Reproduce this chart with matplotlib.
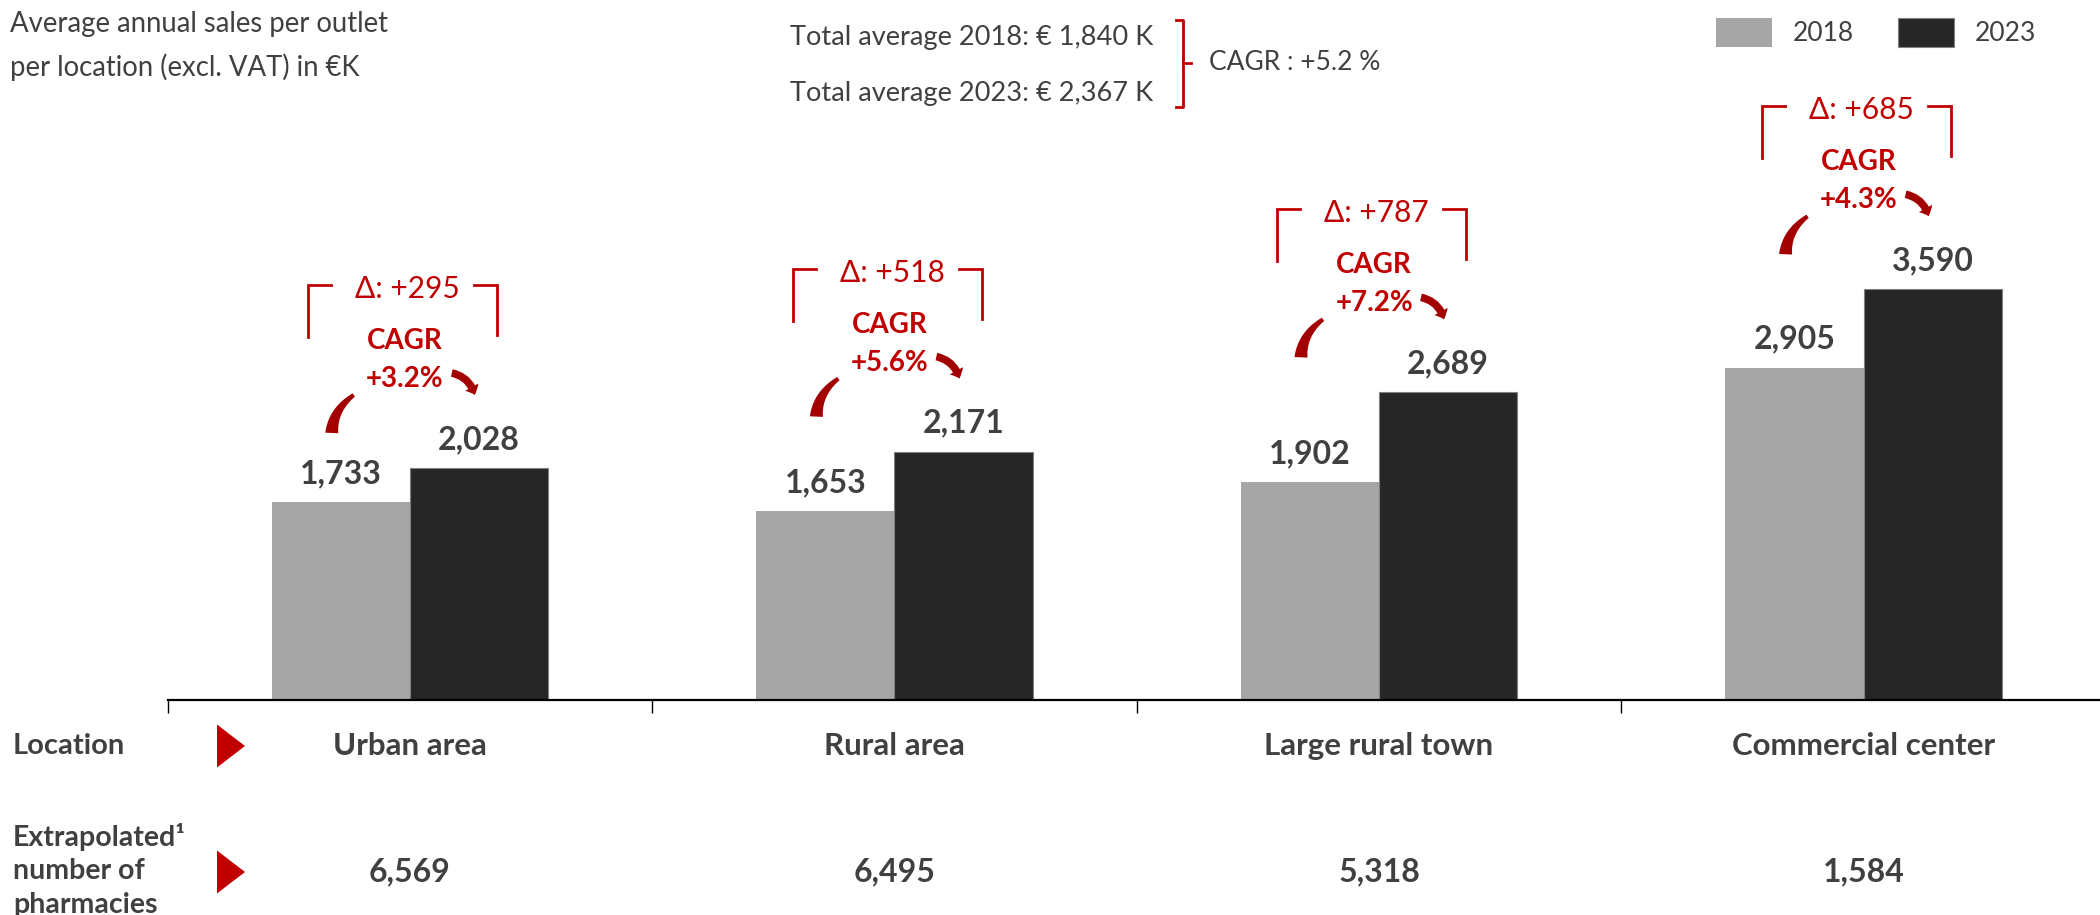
import numpy as np
import matplotlib
matplotlib.use('Agg')
import matplotlib.pyplot as plt
from matplotlib.patches import FancyArrowPatch, Polygon
from matplotlib.lines import Line2D

plt.rcParams['font.family'] = ['Lato', 'DejaVu Sans']

# data
locations = ['Urban area', 'Rural area', 'Large rural town', 'Commercial center']
years = ['2018', '2023']
sales_2018 = [1733, 1653, 1902, 2905]
sales_2023 = [2028, 2171, 2689, 3590]
cagr = [3.2, 5.6, 7.2, 4.3]
pharmacies = [6569, 6495, 5318, 1584]
total_avg = [1840, 2367]
total_cagr = 5.2

GREY = '#A6A6A6'
DARK = '#262626'
RED = '#C00000'
ARROW = '#A30000'
TXT = '#404040'

W, H = 2100, 915
fig = plt.figure(figsize=(21, 9.15), dpi=100)


def fx(px):
    return px / W


def fy(py):
    return 1 - py / H


# axes: baseline at y=700px, first category boundary at x=167.5px
ax = fig.add_axes([fx(167.5), fy(700), 1 - fx(167.5), 700 / H])
cat_w = 484.6          # px per category
y_scale = 0.1144       # px per unit
PX_X = 1 / cat_w
PX_Y = 1 / y_scale

x = np.arange(len(locations))
bw = 0.285
b1 = ax.bar(x - bw / 2, sales_2018, bw, color=GREY, label=years[0])
b2 = ax.bar(x + bw / 2, sales_2023, bw, color=DARK, edgecolor='#808080',
            linewidth=0.8, label=years[1])
ax.set_xlim(-0.5, -0.5 + (W - 167.5) / cat_w)
ax.set_ylim(0, 700 / y_scale)

for s in ['left', 'right', 'top']:
    ax.spines[s].set_visible(False)
ax.spines['bottom'].set_linewidth(1.6)
ax.set_yticks([])
ax.set_xticks(x - 0.5)
ax.tick_params(axis='x', length=9, width=1, labelbottom=False, direction='out')

ax.bar_label(b1, labels=[f'{v:,}' for v in sales_2018], padding=10,
             fontsize=23, fontweight='bold', color=TXT)
ax.bar_label(b2, labels=[f'{v:,}' for v in sales_2023], padding=10,
             fontsize=23, fontweight='bold', color=TXT)

# bottom rows
tr = ax.get_xaxis_transform()
for i, name in enumerate(locations):
    ax.text(i, -46 / 700, name, transform=tr, ha='center', va='center',
            fontsize=22.5, fontweight='bold', color=TXT, clip_on=False)
    ax.text(i, -172 / 700, f'{pharmacies[i]:,}', transform=tr, ha='center',
            va='center', fontsize=23, fontweight='bold', color=TXT, clip_on=False)

fig.text(fx(13), fy(746), 'Location', va='center', fontsize=21,
         fontweight='bold', color=TXT)
for txt, py in zip(['Extrapolated¹', 'number of', 'pharmacies'], [837, 871, 905]):
    fig.text(fx(13), fy(py), txt, va='center', fontsize=20.5,
             fontweight='bold', color=TXT)
for py in [746, 872]:
    fig.add_artist(Polygon([(fx(217), fy(py - 21.5)), (fx(217), fy(py + 21.5)),
                            (fx(245), fy(py))], closed=True, color=RED, lw=0))


# delta brackets, CAGR labels and arrows
def swoosh(cx, top):
    # tapered curved band, offsets in px (y downwards)
    p0 = np.array([-56, 110])
    p1 = np.array([-77, 125])
    p2 = np.array([-78, 148])
    t = np.linspace(0, 1, 30)[:, None]
    pts = (1 - t) ** 2 * p0 + 2 * (1 - t) * t * p1 + t ** 2 * p2
    d = 2 * (1 - t) * (p1 - p0) + 2 * t * (p2 - p1)
    n = np.column_stack([-d[:, 1], d[:, 0]])
    n = n / np.linalg.norm(n, axis=1)[:, None]
    w = (4 + 9 * t) / 2
    outline = np.vstack([pts + n * w, (pts - n * w)[::-1]])
    xy = np.column_stack([cx + outline[:, 0] * PX_X, top - outline[:, 1] * PX_Y])
    ax.add_patch(Polygon(xy, closed=True, color=ARROW, lw=0, clip_on=False))


for i in range(len(locations)):
    delta = sales_2023[i] - sales_2018[i]
    top = sales_2023[i] + 1600
    xl, xr = i - 0.21, i + 0.18
    ax.plot([xl, xl, xl + 23 * PX_X], [top - 52 * PX_Y, top, top],
            color=RED, lw=2, solid_joinstyle='miter', clip_on=False)
    ax.plot([xr - 23 * PX_X, xr, xr], [top, top, top - 50 * PX_Y],
            color=RED, lw=2, solid_joinstyle='miter', clip_on=False)
    ax.text(i - 0.005, top - 4 * PX_Y, f'Δ: +{delta}', ha='center', va='center',
            fontsize=21.5, color=RED)
    ax.text(i - 0.01, top - 56 * PX_Y, 'CAGR', ha='center', va='center',
            fontsize=20, fontweight='bold', color=RED)
    ax.text(i - 0.01, top - 94 * PX_Y, f'+{cagr[i]}%', ha='center', va='center',
            fontsize=20, fontweight='bold', color=RED)
    swoosh(i, top)
    ax.add_patch(FancyArrowPatch(
        (i + 42 * PX_X, top - 88 * PX_Y), (i + 65 * PX_X, top - 110 * PX_Y),
        arrowstyle='simple,head_length=6,head_width=11,tail_width=5.5',
        connectionstyle='arc3,rad=-0.3', mutation_scale=1,
        shrinkA=0, shrinkB=0, color=ARROW, lw=0, clip_on=False))

# title
fig.text(fx(10), fy(24), 'Average annual sales per outlet', va='center',
         fontsize=19.8, color=TXT)
fig.text(fx(10), fy(67), 'per location (excl. VAT) in €K', va='center',
         fontsize=19.8, color=TXT)

# total averages with bracket
fig.text(fx(790), fy(37), f'Total average {years[0]}: € {total_avg[0]:,} K',
         va='center', fontsize=19.6, color=TXT)
fig.text(fx(790), fy(94), f'Total average {years[1]}: € {total_avg[1]:,} K',
         va='center', fontsize=19.6, color=TXT)
fig.add_artist(Line2D([fx(1176), fx(1183), fx(1183), fx(1176)],
                      [fy(20), fy(20), fy(107), fy(107)], color=RED, lw=2))
fig.add_artist(Line2D([fx(1183), fx(1191)], [fy(63), fy(63)], color=RED, lw=2))
fig.text(fx(1209), fy(63), f'CAGR : +{total_cagr} %', va='center',
         fontsize=19, color=TXT)

# legend
fig.legend(handles=[b1, b2], labels=years, loc='upper right',
           bbox_to_anchor=(fx(2036), fy(18)), ncol=2, frameon=False,
           fontsize=19, labelcolor=TXT, handlelength=2.1, handleheight=1.3,
           handletextpad=0.8, columnspacing=1.67, borderpad=0, borderaxespad=0)

fig.savefig('out.png', dpi=100)
